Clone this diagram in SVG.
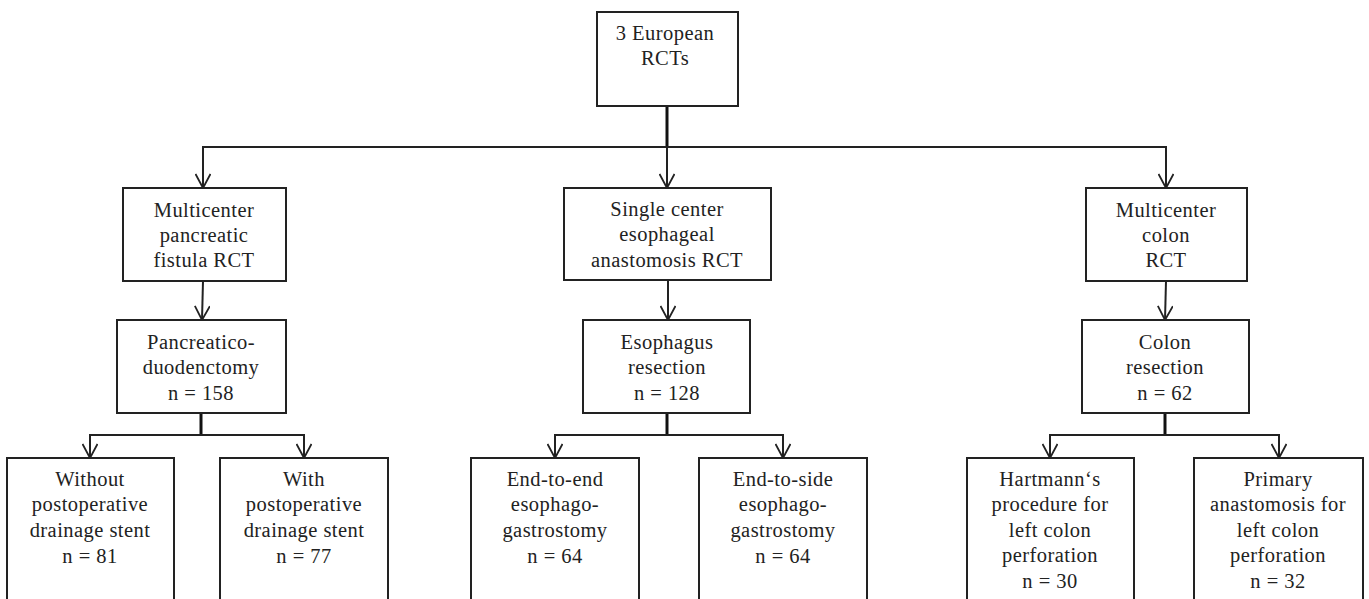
<svg xmlns="http://www.w3.org/2000/svg" width="1369" height="599" viewBox="0 0 1369 599">
<defs>
<marker id="ah" viewBox="0 0 16 16" refX="15" refY="8" markerWidth="16" markerHeight="16" markerUnits="userSpaceOnUse" orient="auto">
<path d="M1,0.5 L15,8 L1,15.5" fill="none" stroke="#222" stroke-width="1.8"/>
</marker>
<style>
rect{fill:#fff;stroke:#222;stroke-width:2}
text{font-family:"Liberation Serif","Times New Roman",serif;font-size:20.5px;letter-spacing:0.45px;fill:#222;text-anchor:middle}
.c{fill:none;stroke:#222;stroke-width:2}
.s{fill:none;stroke:#111;stroke-width:3}
</style>
</defs>
<rect width="1369" height="599" style="fill:#fff;stroke:none"/>
<g id="connectors">
<line class="s" x1="667" y1="106" x2="667" y2="147"/>
<path class="c" d="M203,188 V147 H1166 V188"/>
<line class="c" x1="667" y1="147" x2="667" y2="188" marker-end="url(#ah)"/>
<line class="c" x1="203" y1="160" x2="203" y2="188" marker-end="url(#ah)"/>
<line class="c" x1="1166" y1="160" x2="1166" y2="188" marker-end="url(#ah)"/>
<line class="c" x1="203" y1="281" x2="202" y2="320" marker-end="url(#ah)"/>
<line class="c" x1="668" y1="280" x2="668" y2="320" marker-end="url(#ah)"/>
<line class="c" x1="1166" y1="281" x2="1165" y2="320" marker-end="url(#ah)"/>
<line class="s" x1="201" y1="413" x2="201" y2="435"/>
<line class="s" x1="667" y1="413" x2="667" y2="435"/>
<line class="s" x1="1165" y1="413" x2="1165" y2="435"/>
<path class="c" d="M90,458 V435 H304 V458"/>
<path class="c" d="M555,458 V435 H783 V458"/>
<path class="c" d="M1050,458 V435 H1279 V458"/>
<line class="c" x1="90" y1="440" x2="90" y2="458" marker-end="url(#ah)"/>
<line class="c" x1="304" y1="440" x2="304" y2="458" marker-end="url(#ah)"/>
<line class="c" x1="555" y1="440" x2="555" y2="458" marker-end="url(#ah)"/>
<line class="c" x1="783" y1="440" x2="783" y2="458" marker-end="url(#ah)"/>
<line class="c" x1="1050" y1="440" x2="1050" y2="458" marker-end="url(#ah)"/>
<line class="c" x1="1279" y1="440" x2="1279" y2="458" marker-end="url(#ah)"/>
</g>
<g id="n-top">
<rect x="597" y="12" width="141" height="94"/>
<text x="665" y="40">3 European</text>
<text x="665" y="65">RCTs</text>
</g>
<g id="n-pancreatic-rct">
<rect x="123" y="188" width="163" height="93"/>
<text x="204" y="217">Multicenter</text>
<text x="204" y="242">pancreatic</text>
<text x="204" y="267">fistula RCT</text>
</g>
<g id="n-esophageal-rct">
<rect x="564" y="188" width="207" height="92"/>
<text x="667" y="216">Single center</text>
<text x="667" y="241">esophageal</text>
<text x="667" y="267">anastomosis RCT</text>
</g>
<g id="n-colon-rct">
<rect x="1086" y="188" width="161" height="93"/>
<text x="1166" y="217">Multicenter</text>
<text x="1166" y="242">colon</text>
<text x="1166" y="267">RCT</text>
</g>
<g id="n-pancreatico">
<rect x="117" y="320" width="169" height="93"/>
<text x="201" y="349">Pancreatico-</text>
<text x="201" y="374">duodenctomy</text>
<text x="201" y="400">n = 158</text>
</g>
<g id="n-esophagus">
<rect x="583" y="320" width="167" height="93"/>
<text x="667" y="349">Esophagus</text>
<text x="667" y="374">resection</text>
<text x="667" y="400">n = 128</text>
</g>
<g id="n-colon">
<rect x="1082" y="320" width="167" height="93"/>
<text x="1165" y="349">Colon</text>
<text x="1165" y="374">resection</text>
<text x="1165" y="400">n = 62</text>
</g>
<g id="n-without">
<rect x="7" y="458" width="167" height="160"/>
<text x="90" y="486">Without</text>
<text x="90" y="511">postoperative</text>
<text x="90" y="537">drainage stent</text>
<text x="90" y="563">n = 81</text>
</g>
<g id="n-with">
<rect x="220" y="458" width="168" height="160"/>
<text x="304" y="486">With</text>
<text x="304" y="511">postoperative</text>
<text x="304" y="537">drainage stent</text>
<text x="304" y="563">n = 77</text>
</g>
<g id="n-end-to-end">
<rect x="471" y="458" width="168" height="160"/>
<text x="555" y="486">End-to-end</text>
<text x="555" y="511">esophago-</text>
<text x="555" y="537">gastrostomy</text>
<text x="555" y="563">n = 64</text>
</g>
<g id="n-end-to-side">
<rect x="699" y="458" width="168" height="160"/>
<text x="783" y="486">End-to-side</text>
<text x="783" y="511">esophago-</text>
<text x="783" y="537">gastrostomy</text>
<text x="783" y="563">n = 64</text>
</g>
<g id="n-hartmann">
<rect x="967" y="458" width="167" height="160"/>
<text x="1050" y="486">Hartmann‘s</text>
<text x="1050" y="511">procedure for</text>
<text x="1050" y="537">left colon</text>
<text x="1050" y="562">perforation</text>
<text x="1050" y="588">n = 30</text>
</g>
<g id="n-primary">
<rect x="1194" y="458" width="169" height="160"/>
<text x="1278" y="486">Primary</text>
<text x="1278" y="511">anastomosis for</text>
<text x="1278" y="537">left colon</text>
<text x="1278" y="562">perforation</text>
<text x="1278" y="588">n = 32</text>
</g>
</svg>
